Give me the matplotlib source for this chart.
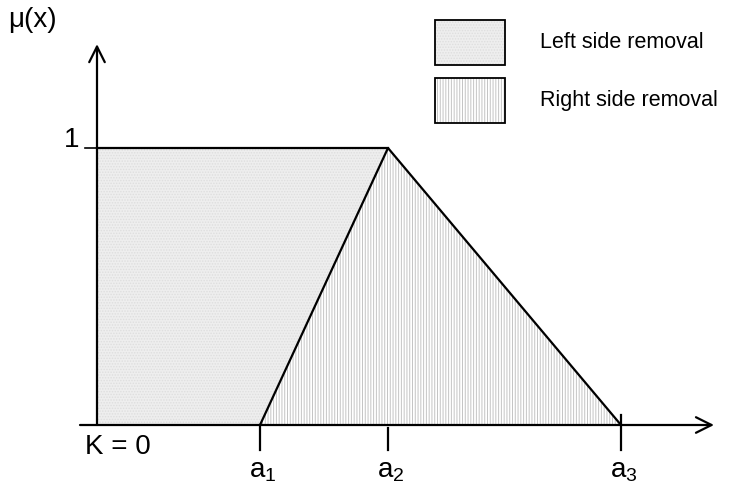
import numpy as np
import matplotlib
matplotlib.use('Agg')
import matplotlib.pyplot as plt
from matplotlib.patches import Polygon, Rectangle

# support points of the membership function (x in arbitrary units)
x_labels = ['K = 0', 'a$_1$', 'a$_2$', 'a$_3$']
x_points = [0.0, 1.63, 2.91, 5.24]
mu_top = 1.0
legend_labels = ['Left side removal', 'Right side removal']

plt.rcParams['font.family'] = ['Liberation Sans', 'DejaVu Sans']
plt.rcParams['mathtext.fontset'] = 'custom'
plt.rcParams['mathtext.rm'] = 'Liberation Sans'
plt.rcParams['mathtext.it'] = 'Liberation Sans'
plt.rcParams['mathtext.default'] = 'rm'
plt.rcParams['hatch.linewidth'] = 0.7

fig = plt.figure(figsize=(7.36, 4.92), dpi=100)
ax = fig.add_axes([0, 0, 1, 1])
ax.set_xlim(-0.97, 6.39)
ax.set_ylim(-67 / 277, 425 / 277)
ax.axis('off')

k, a1, a2, a3 = x_points

left_style = dict(facecolor='#eeeeee', edgecolor='#dedede', hatch='......')
right_style = dict(facecolor='white', edgecolor='#c4c4c4', hatch='||||||')

# left side removal: trapezoid under the plateau
ax.add_patch(Polygon([(k, 0), (k, mu_top), (a2, mu_top), (a1, 0)],
                     closed=True, lw=0, **left_style))
# right side removal: triangle a1-a2-a3
ax.add_patch(Polygon([(a1, 0), (a2, mu_top), (a3, 0)],
                     closed=True, lw=0, **right_style))

# outlines
ax.plot([k, a2], [mu_top, mu_top], color='black', lw=1.6)
ax.plot([a1, a2, a3], [0, mu_top, 0], color='black', lw=1.6)

# axes with arrows
ax.annotate('', xy=(6.17, 0), xytext=(-0.17, 0),
            arrowprops=dict(arrowstyle='->', lw=1.6, color='black',
                            mutation_scale=28, shrinkA=0, shrinkB=0))
ax.annotate('', xy=(k, 1.375), xytext=(k, 0),
            arrowprops=dict(arrowstyle='->', lw=1.6, color='black',
                            mutation_scale=28, shrinkA=0, shrinkB=0))

# ticks
ax.plot([-0.12, k], [mu_top, mu_top], color='black', lw=1.2)
ax.plot([a1, a1], [0, -0.09], color='black', lw=1.6)
ax.plot([a2, a2], [-0.01, -0.09], color='black', lw=1.6)
ax.plot([a3, a3], [0.036, -0.09], color='black', lw=1.6)

# labels
fs = 20
ax.text(-0.25, mu_top + 0.03, '1', ha='center', va='center', fontsize=fs)
ax.text(-0.89, 1.462, 'μ(x)', ha='left', va='center', fontsize=fs)
ax.text(-0.12, -0.08, x_labels[0], ha='left', va='center', fontsize=fs)
for xp, lab in zip(x_points[1:], x_labels[1:]):
    ax.text(xp + 0.03, -0.165, lab, ha='center', va='center', fontsize=fs)

# legend boxes
box_y = [1.300, 1.092]
for by, style, lab in zip(box_y, [left_style, right_style], legend_labels):
    ax.add_patch(Rectangle((3.38, by), 0.70, 0.162, lw=0, **style))
    ax.add_patch(Rectangle((3.38, by), 0.70, 0.162, lw=1.3,
                           facecolor='none', edgecolor='black'))
    ax.text(4.43, by + 0.081, lab, ha='left', va='center', fontsize=15.5)

fig.savefig('out.png', dpi=100)
